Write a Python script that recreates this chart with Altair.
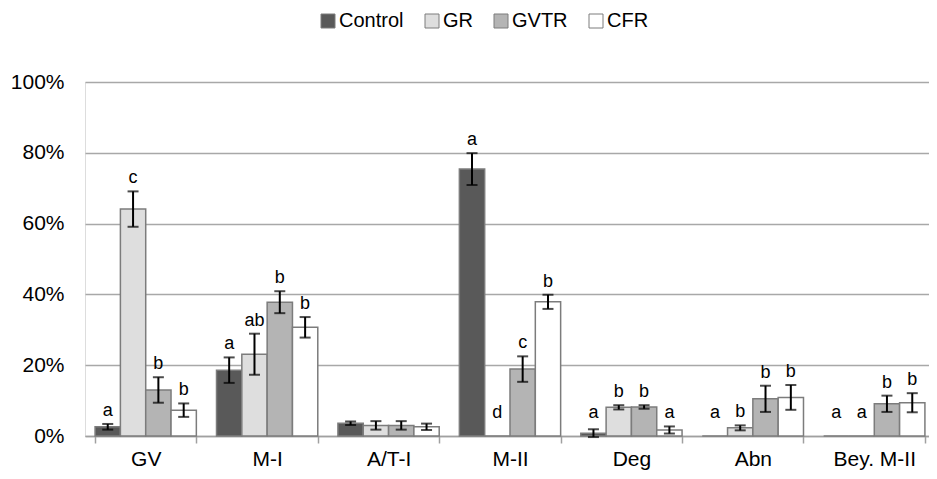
import altair as alt
import pandas as pd

categories = ["GV", "M-I", "A/T-I", "M-II", "Deg", "Abn", "Bey. M-II"]
groups = ["Control", "GR", "GVTR", "CFR"]

control = [2.6, 18.6, 3.6, 75.4, 0.8, 0.0, 0.0]
control_err = [0.8, 3.6, 0.5, 4.5, 1.1, 0.0, 0.0]
control_lbl = ["a", "a", "", "a", "a", "a", "a"]

gr = [64.1, 23.1, 3.0, 0.0, 8.1, 2.3, 0.0]
gr_err = [5.0, 5.8, 1.2, 0.0, 0.6, 0.7, 0.0]
gr_lbl = ["c", "ab", "", "d", "b", "b", "a"]

gvtr = [13.0, 37.8, 3.0, 18.9, 8.2, 10.5, 9.1]
gvtr_err = [3.6, 3.1, 1.2, 3.6, 0.5, 3.7, 2.3]
gvtr_lbl = ["b", "b", "", "c", "b", "b", "b"]

cfr = [7.3, 30.7, 2.6, 37.9, 1.7, 10.9, 9.4]
cfr_err = [1.9, 2.9, 0.9, 2.0, 1.0, 3.5, 2.7]
cfr_lbl = ["b", "b", "", "b", "a", "b", "b"]

series = {
    "Control": (control, control_err, control_lbl),
    "GR": (gr, gr_err, gr_lbl),
    "GVTR": (gvtr, gvtr_err, gvtr_lbl),
    "CFR": (cfr, cfr_err, cfr_lbl),
}

rows = []
for g in groups:
    vals, errs, lbls = series[g]
    for c, v, e, l in zip(categories, vals, errs, lbls):
        rows.append({"cat": c, "group": g, "val": v, "err": e,
                     "lo": v - e, "hi": v + e, "letter": l})
df = pd.DataFrame(rows)

FONT = "Liberation Sans"
fill_colors = ["#595959", "#dedede", "#b4b4b4", "#ffffff"]

yscale = alt.Scale(domain=[0, 100])

base = alt.Chart(df).encode(
    x=alt.X("cat:N", sort=categories, title=None,
            scale=alt.Scale(paddingInner=0.166, paddingOuter=0.083),
            axis=alt.Axis(labelFontSize=21, labelFont=FONT, labelColor="#000000",
                          labelAngle=0, labelPadding=22, labelBaseline="alphabetic",
                          tickBand="extent",
                          tickSize=7, tickColor="#a0a0a0", tickWidth=1.5,
                          domainColor="#a0a0a0", domainWidth=1.5, grid=False)),
    xOffset=alt.XOffset("group:N", sort=groups,
                        scale=alt.Scale(paddingInner=0, paddingOuter=0)),
)

bars = base.mark_bar(stroke="#7c7c7c", strokeWidth=1.5).encode(
    y=alt.Y("val:Q", scale=yscale, title=None,
            axis=alt.Axis(values=[0, 20, 40, 60, 80, 100],
                          labelExpr="datum.value + '%'",
                          labelFontSize=21, labelFont=FONT, labelColor="#000000",
                          labelPadding=21, ticks=False, domain=False,
                          grid=True, gridColor="#a8a8a8", gridWidth=1.5)),
    fill=alt.Fill("group:N", sort=groups,
                  scale=alt.Scale(domain=groups, range=fill_colors),
                  legend=alt.Legend(orient="none", legendX=233, legendY=-71,
                                    direction="horizontal", title=None,
                                    symbolType="square", symbolSize=196,
                                    symbolStrokeColor="#7c7c7c", symbolStrokeWidth=1,
                                    labelFontSize=20, labelFont=FONT,
                                    labelColor="#000000", labelOffset=1,
                                    columnPadding=18, padding=0)),
)

err_base = base.transform_filter("datum.err > 0")

rules = err_base.mark_rule(color="#000000", strokeWidth=2).encode(
    y=alt.Y("lo:Q", scale=yscale), y2="hi:Q")
cap_top = err_base.mark_tick(color="#000000", thickness=2, size=11,
                             orient="horizontal").encode(
    y=alt.Y("hi:Q", scale=yscale))
cap_bot = err_base.mark_tick(color="#000000", thickness=2, size=11,
                             orient="horizontal").encode(
    y=alt.Y("lo:Q", scale=yscale))

labels = base.transform_filter("datum.letter != ''").transform_calculate(
    ly="max(datum.hi, 2.8)"
).mark_text(
    baseline="alphabetic", dy=-8, fontSize=18, font=FONT, color="#000000"
).encode(y=alt.Y("ly:Q", scale=yscale), text="letter:N")

chart = alt.layer(bars, rules, cap_top, cap_bot, labels).properties(
    width=850, height=354,
    autosize=alt.AutoSizeParams(type="none"),
    padding={"left": 77, "top": 74, "right": -6, "bottom": 35},
).configure_view(stroke=None).configure(background="#ffffff")

chart.save("out.html", embed_options={"renderer": "svg", "actions": False})
